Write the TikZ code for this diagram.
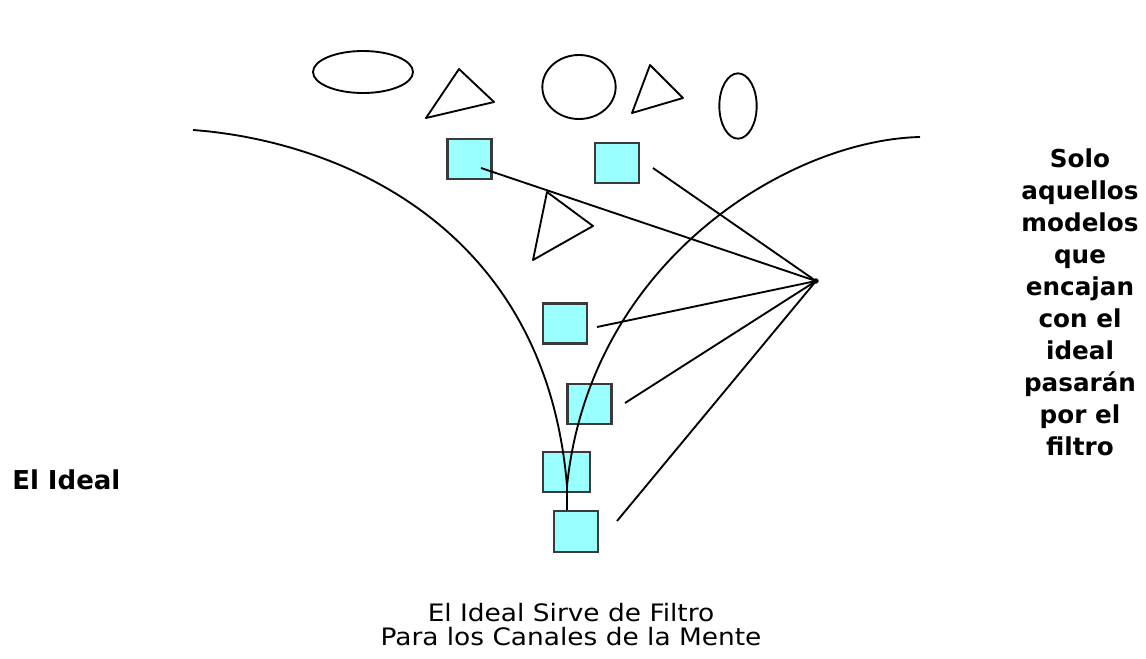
\documentclass[tikz,border=0pt]{standalone}
\usepackage{fontspec}
\setmainfont{DejaVu Sans}
\newfontfamily\piefont[FakeStretch=1.1]{DejaVu Sans}
\usepackage{tikz}
\definecolor{cian}{HTML}{99FFFF}
\definecolor{borde}{HTML}{3A3A3A}
\tikzstyle{cuadro}=[rectangle,draw=borde,fill=cian,line width=1.6pt,
                    inner sep=0pt,minimum width=33pt,minimum height=30pt]
\tikzstyle{foco}=[circle,draw=black,fill=black,
                  inner sep=0pt,minimum size=3.5pt]
\tikzstyle{trazo}=[line width=1.4pt,line join=round]

\begin{document}
\begin{tikzpicture}[x=0.75pt,y=-0.75pt]
    \useasboundingbox (0,0) rectangle (1146,658);
    % figuras de arriba
    \draw[trazo] (363,72) ellipse [x radius=37.5pt,y radius=15.75pt];
    \draw[trazo] (459,69) -- (494,102) -- (426,118) -- cycle;
    \draw[trazo] (579,87) ellipse [x radius=27.5pt,y radius=24pt];
    \draw[trazo] (650,65) -- (683,98) -- (632,113) -- cycle;
    \draw[trazo] (738,106) ellipse [x radius=14pt,y radius=24.5pt];
    \draw[trazo] (547,192) -- (593,226) -- (533,260) -- cycle;
    % los modelos
    \node (m1) at (469.5,159) [cuadro]{};
    \node (m2) at (617,163)   [cuadro]{};
    \node (m3) at (565,323.5) [cuadro]{};
    \node (m4) at (589.5,404) [cuadro]{};
    \node (m5) at (566.5,472) [cuadro,minimum width=35pt]{};
    \node (m6) at (576,531.5) [cuadro,minimum height=31pt]{};
    % los canales
    \coordinate (union) at (567,486);
    \draw[trazo] (193,130) .. controls (330,140) and (545,220) .. (union);
    \draw[trazo] (920,137) .. controls (790,140) and (590,260) .. (union);
    \draw[trazo] (union) -- (m6.north -| union);
    % el ideal
    \node (ideal) at (816,281) [foco]{};
    \coordinate (e1) at (481,168);
    \coordinate (e2) at (653,168);
    \coordinate (e3) at (597,327);
    \coordinate (e4) at (625,403);
    \coordinate (e6) at (617,521);
    \foreach \e in {e1,e2,e3,e4,e6}
        \draw[trazo] (ideal.center) -- (\e);
    % textos
    \node (izq) at (12,489) [anchor=base west,inner sep=0pt,
        font=\fontsize{19.5}{24}\selectfont\bfseries]{El Ideal};
    \node (der) at (1080,148) [anchor=north,inner sep=0pt,align=center,
        font=\fontsize{18.5}{24}\selectfont\bfseries]{Solo\\aquellos\\modelos\\que\\encajan\\con el\\ideal\\pasarán\\por el\\filtro};
    \node (pie) at (571,603) [anchor=north,inner sep=0pt,align=center,
        font=\piefont\fontsize{18}{18}\selectfont]{El Ideal Sirve de Filtro\\Para los Canales de la Mente};
\end{tikzpicture}
\end{document}
